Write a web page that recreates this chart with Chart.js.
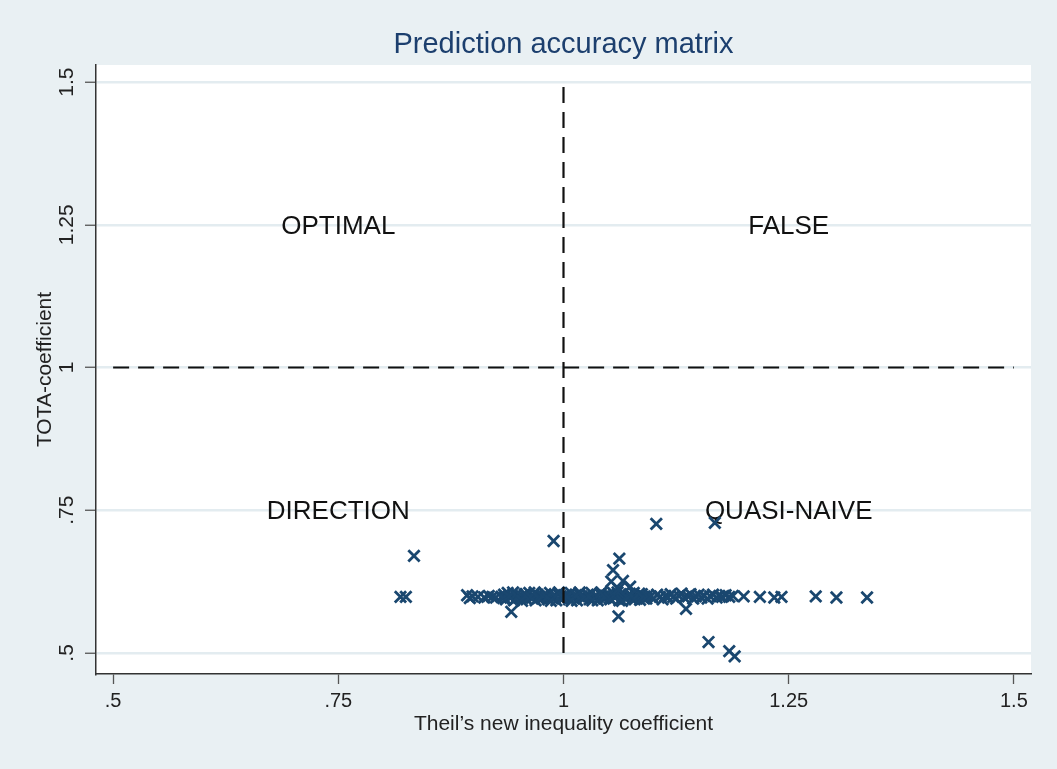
<!DOCTYPE html>
<html>
<head>
<meta charset="utf-8">
<title>Prediction accuracy matrix</title>
<script src="https://cdn.jsdelivr.net/npm/chart.js@4/dist/chart.umd.min.js"></script>
<style>
  html, body { margin: 0; padding: 0; background: #ffffff; }
  #wrap { width: 1057px; height: 769px; }
</style>
</head>
<body>
<div id="wrap"><canvas id="chart" width="1057" height="769"></canvas></div>
<script>
'use strict';

// ---- data ----
var chartTitle = 'Prediction accuracy matrix';
var xTitle = 'Theil\u2019s new inequality coefficient';
var yTitle = 'TOTA-coefficient';

var tickValues = [0.5, 0.75, 1, 1.25, 1.5];
var tickLabels = ['.5', '.75', '1', '1.25', '1.5'];

var quadrantLabels = ['OPTIMAL', 'FALSE', 'DIRECTION', 'QUASI-NAIVE'];
var quadrantX = [0.75, 1.25, 0.75, 1.25];
var quadrantY = [1.25, 1.25, 0.75, 0.75];

// reference lines (theil = 1, tota = 1)
var theilLine = [[1, 0.5], [1, 1.5]];
var totaLine = [[0.5, 1], [1.5, 1]];

var leftTail = [
  [0.819, 0.598], [0.825, 0.598], [0.834, 0.670], [0.893, 0.601], [0.896, 0.596],
  [0.899, 0.599], [0.905, 0.598], [0.912, 0.597], [0.917, 0.600], [0.921, 0.598],
  [0.925, 0.597]
];

var coreBand = [
  [0.931, 0.598], [0.934, 0.602], [0.936, 0.594], [0.938, 0.605], [0.941, 0.597],
  [0.943, 0.600], [0.945, 0.592], [0.948, 0.603], [0.950, 0.599], [0.952, 0.595],
  [0.955, 0.597], [0.957, 0.603], [0.959, 0.594], [0.962, 0.605], [0.964, 0.598],
  [0.966, 0.601], [0.969, 0.592], [0.971, 0.602], [0.973, 0.599], [0.976, 0.595],
  [0.978, 0.598], [0.980, 0.603], [0.983, 0.594], [0.985, 0.605], [0.987, 0.597],
  [0.990, 0.601], [0.992, 0.592], [0.994, 0.603], [0.997, 0.599], [0.999, 0.595],
  [1.001, 0.598], [1.003, 0.602], [1.006, 0.594], [1.008, 0.605], [1.010, 0.597],
  [1.013, 0.600], [1.015, 0.592], [1.017, 0.603], [1.020, 0.599], [1.022, 0.595],
  [1.024, 0.598], [1.027, 0.602], [1.029, 0.594], [1.031, 0.605], [1.034, 0.597],
  [1.036, 0.600], [1.038, 0.592], [1.041, 0.603], [1.043, 0.599], [1.045, 0.595],
  [1.048, 0.598], [1.050, 0.602], [1.052, 0.594], [1.055, 0.605], [1.057, 0.597],
  [1.059, 0.600], [1.062, 0.592], [1.064, 0.603], [1.066, 0.599], [1.069, 0.595],
  [1.071, 0.598], [1.073, 0.602], [1.076, 0.594], [1.078, 0.605], [1.080, 0.597],
  [1.083, 0.600], [1.085, 0.593], [1.087, 0.603], [1.090, 0.599], [1.092, 0.595],
  [0.933, 0.596], [0.939, 0.599], [0.944, 0.606], [0.949, 0.597], [0.954, 0.591],
  [0.958, 0.600], [0.963, 0.598], [0.968, 0.606], [0.972, 0.596], [0.977, 0.600],
  [0.982, 0.597], [0.986, 0.591], [0.991, 0.599], [0.995, 0.606], [1.000, 0.597],
  [1.004, 0.599], [1.009, 0.591], [1.014, 0.601], [1.018, 0.606], [1.023, 0.597],
  [1.028, 0.599], [1.032, 0.592], [1.037, 0.600], [1.042, 0.606], [1.046, 0.598],
  [1.051, 0.596], [1.056, 0.600], [1.060, 0.606], [1.065, 0.591], [1.070, 0.598],
  [1.074, 0.601], [1.079, 0.594], [1.084, 0.604], [1.088, 0.597], [1.093, 0.600]
];

var outerBand = [
  [1.097, 0.599], [1.100, 0.595], [1.104, 0.602], [1.107, 0.598], [1.110, 0.594],
  [1.113, 0.600], [1.116, 0.597], [1.119, 0.603], [1.122, 0.598], [1.125, 0.595],
  [1.128, 0.600], [1.131, 0.604], [1.134, 0.597], [1.138, 0.599], [1.141, 0.603],
  [1.144, 0.595], [1.147, 0.599], [1.150, 0.602], [1.153, 0.597], [1.156, 0.600],
  [1.160, 0.595], [1.163, 0.599], [1.166, 0.602], [1.170, 0.597], [1.173, 0.600],
  [1.176, 0.598], [1.180, 0.601], [1.184, 0.598], [1.188, 0.600]
];

var rightTail = [
  [1.200, 0.599], [1.218, 0.598], [1.234, 0.597], [1.242, 0.598],
  [1.280, 0.599], [1.303, 0.597], [1.337, 0.597]
];

var outliers = [
  [0.942, 0.572], [0.989, 0.696], [1.103, 0.726], [1.168, 0.728], [1.062, 0.665],
  [1.055, 0.645], [1.053, 0.625], [1.066, 0.626], [1.074, 0.616], [1.061, 0.612],
  [1.061, 0.564], [1.136, 0.577], [1.161, 0.519], [1.184, 0.503], [1.190, 0.494]
];

// ---- styles ----
var FONT = '"Liberation Sans", Arial, Helvetica, sans-serif';
var NAVY = '#1a476f';
var BG = '#e9f0f3';
var GRID = '#e3ecf0';

function toPoints(list){
  return list.map(function(p){ return {x: p[0], y: p[1]}; });
}

var allPoints = [].concat(leftTail, coreBand, outerBand, rightTail, outliers);

var backdrop = {
  id: 'backdrop',
  beforeDraw: function(chart){
    var ctx = chart.ctx, a = chart.chartArea;
    ctx.save();
    ctx.fillStyle = BG;
    ctx.fillRect(0, 0, chart.width, chart.height);
    ctx.fillStyle = '#ffffff';
    ctx.fillRect(a.left, a.top, a.right - a.left, a.bottom - a.top);
    ctx.restore();
  }
};

var annotations = {
  id: 'annotations',
  beforeDatasetsDraw: function(chart){
    var ctx = chart.ctx, xs = chart.scales.x, ys = chart.scales.y;
    ctx.save();
    ctx.fillStyle = '#111111';
    ctx.font = '26px ' + FONT;
    ctx.textAlign = 'center';
    ctx.textBaseline = 'middle';
    quadrantLabels.forEach(function(lbl, i){
      ctx.fillText(lbl, xs.getPixelForValue(quadrantX[i]), ys.getPixelForValue(quadrantY[i]) + 2);
    });
    ctx.restore();
  },
  afterDraw: function(chart){
    var ctx = chart.ctx, a = chart.chartArea, ys = chart.scales.y;
    ctx.save();
    // title
    ctx.fillStyle = '#1c3f6e';
    ctx.font = '29px ' + FONT;
    ctx.textAlign = 'center';
    ctx.textBaseline = 'middle';
    ctx.fillText(chartTitle, (a.left + a.right) / 2, 45);

    // y tick labels, rotated
    ctx.fillStyle = '#222222';
    ctx.font = '21px ' + FONT;
    tickValues.forEach(function(v, i){
      ctx.save();
      ctx.translate(a.left - 29, ys.getPixelForValue(v));
      ctx.rotate(-Math.PI / 2);
      ctx.fillText(tickLabels[i], 0, 0);
      ctx.restore();
    });

    // y title
    ctx.font = '21px ' + FONT;
    ctx.save();
    ctx.translate(a.left - 51, (a.top + a.bottom) / 2);
    ctx.rotate(-Math.PI / 2);
    ctx.fillText(yTitle, 0, 0);
    ctx.restore();

    // x title
    ctx.fillText(xTitle, (a.left + a.right) / 2, a.bottom + 50);
    ctx.restore();
  }
};

var ctx = document.getElementById('chart').getContext('2d');
var chart = new Chart(ctx, {
  type: 'scatter',
  data: {
    datasets: [
      {
        type: 'line',
        data: toPoints(theilLine),
        borderColor: '#111111',
        borderWidth: 2.2,
        borderDash: [16, 9],
        pointRadius: 0,
        order: 0
      },
      {
        type: 'line',
        data: toPoints(totaLine),
        borderColor: '#111111',
        borderWidth: 2.2,
        borderDash: [16, 9],
        pointRadius: 0,
        order: 0
      },
      {
        data: toPoints(allPoints),
        pointStyle: 'crossRot',
        pointRadius: 8,
        pointBorderWidth: 2.8,
        borderColor: NAVY,
        backgroundColor: NAVY,
        showLine: false,
        order: 1
      }
    ]
  },
  options: {
    responsive: false,
    animation: false,
    events: [],
    layout: { padding: { top: 65, right: 26, left: 0, bottom: 0 } },
    plugins: {
      legend: { display: false },
      tooltip: { enabled: false },
      title: { display: false }
    },
    scales: {
      x: {
        type: 'linear',
        min: 0.481,
        max: 1.519,
        afterBuildTicks: function(scale){
          scale.ticks = tickValues.map(function(v){ return {value: v}; });
        },
        afterFit: function(scale){ scale.height = 95; },
        ticks: {
          color: '#222222',
          font: { family: FONT, size: 20 },
          padding: 5,
          maxRotation: 0,
          callback: function(v){ return tickLabels[tickValues.indexOf(v)]; }
        },
        grid: {
          drawOnChartArea: false,
          drawTicks: true,
          tickLength: 10,
          tickColor: '#555555',
          tickWidth: 1.3
        },
        border: { display: true, color: '#333333', width: 1.5 }
      },
      y: {
        type: 'linear',
        min: 0.463,
        max: 1.53,
        afterBuildTicks: function(scale){
          scale.ticks = tickValues.map(function(v){ return {value: v}; });
        },
        afterFit: function(scale){ scale.width = 96; },
        ticks: { display: false },
        grid: {
          color: GRID,
          lineWidth: 2.5,
          drawTicks: true,
          tickLength: 11,
          tickColor: '#555555',
          tickWidth: 1.3
        },
        border: { display: true, color: '#333333', width: 1.5 }
      }
    }
  },
  plugins: [backdrop, annotations]
});
</script>
</body>
</html>
